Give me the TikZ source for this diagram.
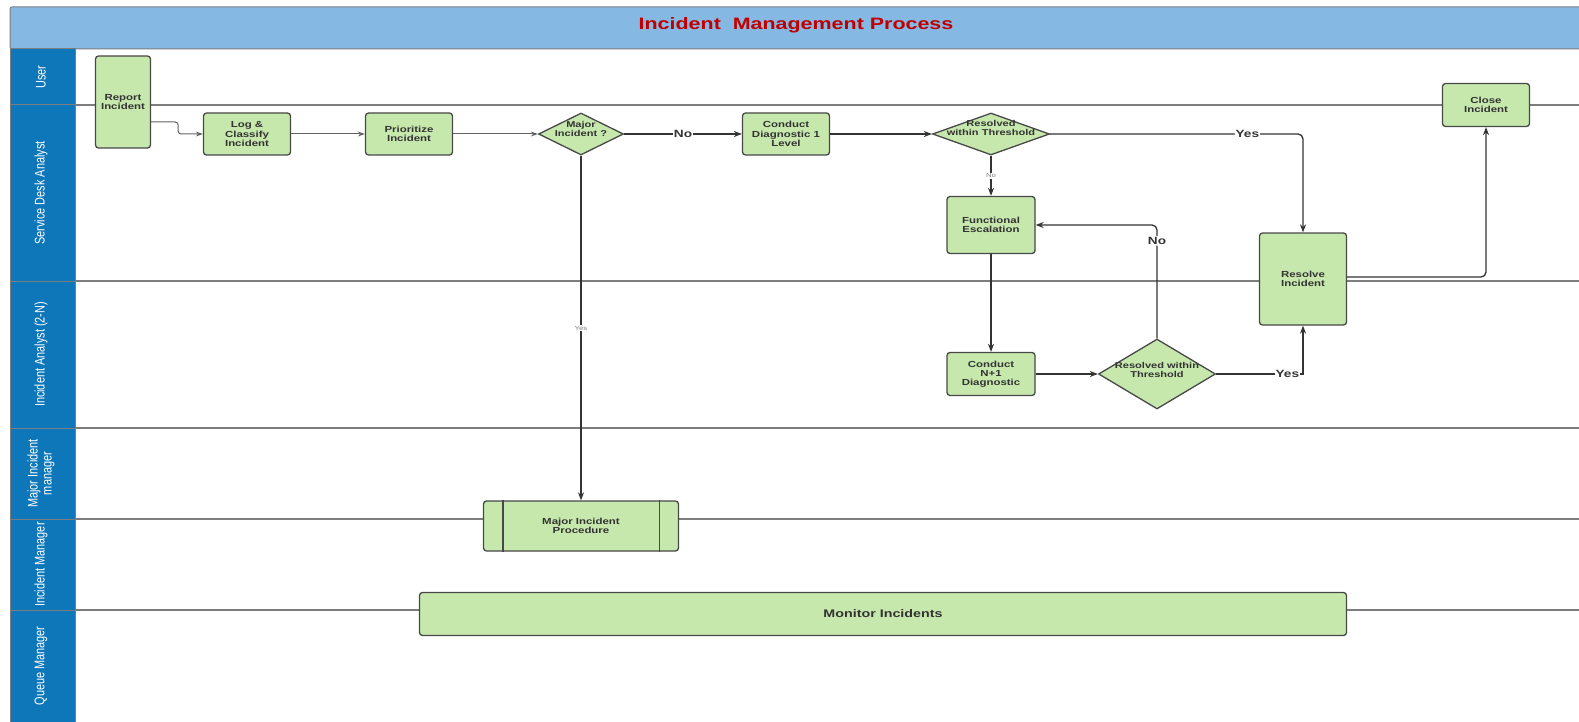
\documentclass[tikz,border=0pt]{standalone}
\usepackage{fontspec}
\setmainfont{Liberation Sans}
\newfontfamily\boxfont[FakeStretch=1.3]{Liberation Sans}
\newfontfamily\lanefont[FakeStretch=0.78]{Liberation Sans}
\usetikzlibrary{arrows.meta,shapes.geometric}

\definecolor{titleblue}{RGB}{133,185,227}
\definecolor{laneblue}{RGB}{14,119,186}
\definecolor{boxgreen}{RGB}{198,232,173}
\definecolor{boxline}{RGB}{72,72,72}
\definecolor{titlered}{RGB}{192,0,0}
\definecolor{flowgray}{RGB}{51,51,51}
\definecolor{rulegray}{RGB}{125,125,125}

\tikzset{
  task/.style={rectangle, rounded corners=3pt, draw=boxline, fill=boxgreen,
    line width=1.3pt, font=\boxfont\bfseries\fontsize{8.8}{9.2}\selectfont,
    text=flowgray, align=center, inner sep=2pt},
  decision/.style={diamond, draw=boxline, fill=boxgreen, line width=1.3pt,
    inner sep=0pt},
  dtext/.style={font=\boxfont\bfseries\fontsize{8.5}{9}\selectfont,
    text=flowgray, align=center, inner sep=0pt},
  lane/.style={fill=laneblue, draw=rulegray, line width=1pt},
  lanetext/.style={rotate=90, text=white, align=center,
    font=\lanefont\fontsize{14}{14}\selectfont},
  laneline/.style={draw=rulegray, line width=1.2pt},
  flow/.style={-{Stealth[length=8pt,width=6pt]}, draw=flowgray, line width=1.3pt},
  thinflow/.style={-{Stealth[length=7pt,width=5pt]}, draw=boxline!85, line width=1pt},
  biglabel/.style={fill=white, inner sep=1pt, text=flowgray,
    font=\boxfont\bfseries\fontsize{10.5}{11}\selectfont},
  smalllabel/.style={fill=white, inner sep=1pt, text=gray,
    font=\boxfont\fontsize{6}{6}\selectfont},
}

\begin{document}
\begin{tikzpicture}[x=1pt,y=-1pt]
\useasboundingbox (0,0) rectangle (1579,722);
\clip (0,0) rectangle (1579,722);

% title bar
\draw[fill=titleblue, draw=rulegray, line width=1pt, rounded corners=2pt] (10,7) rectangle (1600,49);
\node[text=titlered, font=\boxfont\bfseries\fontsize{16.5}{17}\selectfont] (title) at (796,25) {Incident\ \ Management Process};

% swimlanes
\foreach \ya/\yb/\lname [count=\i] in {49/105/User, 105/281/Service Desk Analyst,
    281/428/{Incident Analyst (2-N)}, 428/519/{Major Incident\\manager},
    519/610/Incident Manager, 610/722/Queue Manager}{
  \draw[lane] (10,\ya) rectangle (75,\yb);
  \node[lanetext] (lane\i) at (41,{(\ya+\yb)/2}) {\lname};
}
\foreach \y in {105,281,428,519,610}
  \draw[laneline] (75,\y) -- (1600,\y);

% steps
\node[task, minimum width=55pt, minimum height=92pt] (report) at (123,102) {Report\\Incident};
\node[task, minimum width=87pt, minimum height=42pt] (log) at (247,134) {Log \&\\Classify\\Incident};
\node[task, minimum width=87pt, minimum height=42pt] (prio) at (409,134) {Prioritize\\Incident};
\node[decision, minimum width=85pt, minimum height=42pt,
  label={[dtext, yshift=5.5pt]center:Major\\Incident ?}] (major) at (581,134) {};
\node[task, minimum width=87pt, minimum height=42pt] (diag) at (786,134) {Conduct\\Diagnostic 1\\Level};
\node[decision, minimum width=117pt, minimum height=42pt,
  label={[dtext, yshift=6pt]center:Resolved\\within Threshold}] (res1) at (991,134) {};
\node[task, minimum width=88pt, minimum height=57pt] (fesc) at (991,225) {Functional\\Escalation};
\node[task, minimum width=87pt, minimum height=92pt] (resolve) at (1303,279) {Resolve\\Incident};
\node[task, minimum width=87pt, minimum height=43pt] (close) at (1486,105) {Close\\Incident};
\node[task, minimum width=88pt, minimum height=43pt] (nplus) at (991,374) {Conduct\\N+1\\Diagnostic};
\node[decision, minimum width=117pt, minimum height=70pt,
  label={[dtext, yshift=4pt]center:Resolved within\\Threshold}] (res2) at (1157,374) {};
\node[task, minimum width=195pt, minimum height=50pt] (mip) at (581,526) {Major Incident\\Procedure};
\draw[boxline, line width=1.3pt] ([xshift=20pt]mip.north west) -- ([xshift=20pt]mip.south west);
\draw[boxline, line width=1.3pt] ([xshift=-20pt]mip.north east) -- ([xshift=-20pt]mip.south east);
\node[task, minimum width=927pt, minimum height=43pt,
  font=\boxfont\bfseries\fontsize{11}{12}\selectfont] (monitor) at (883,614) {Monitor Incidents};

% flow
\draw[thinflow, rounded corners=3pt] ([yshift=-20pt]report.east) -- ++(27,0) |- (log.west);
\draw[thinflow] (log) -- (prio);
\draw[thinflow] (prio) -- (major);
\draw[flow] (major) -- node[biglabel] {No} (diag);
\draw[flow] (major) -- node[smalllabel] {Yes} (mip);
\draw[flow] (diag) -- (res1);
\draw[flow, rounded corners=5pt] (res1.east) -| node[biglabel, pos=0.39] {Yes} (resolve.north);
\draw[flow] (res1) -- node[smalllabel] {No} (fesc);
\draw[flow] (fesc) -- (nplus);
\draw[flow] (nplus) -- (res2);
\draw[flow, rounded corners=5pt] (res2.north) |- node[biglabel, pos=0.43] {No} (fesc.east);
\draw[flow] (res2.east) -| node[biglabel, pos=0.41] {Yes} (resolve.south);
\draw[flow, rounded corners=5pt] ([yshift=2pt]resolve.east) -| (close.south);
\end{tikzpicture}
\end{document}
